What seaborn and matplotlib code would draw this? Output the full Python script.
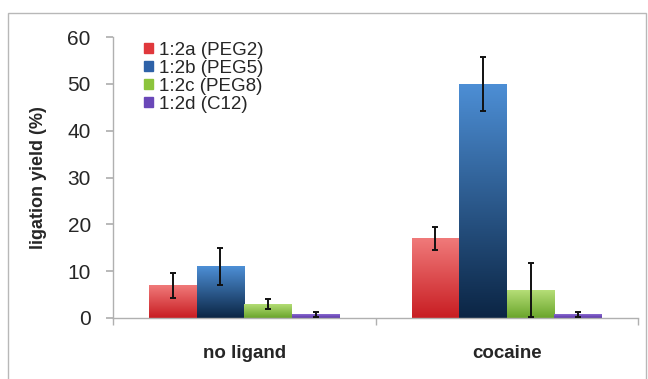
import numpy as np
import pandas as pd
import matplotlib
matplotlib.use("Agg")
import matplotlib.pyplot as plt
import matplotlib.patches as mpatches
from matplotlib.colors import LinearSegmentedColormap
import seaborn as sns

# Data
conditions = ["no ligand", "cocaine"]
linkers = ["1:2a (PEG2)", "1:2b (PEG5)", "1:2c (PEG8)", "1:2d (C12)"]
yield_no_ligand = [7.0, 11.0, 3.0, 0.8]
yield_cocaine = [17.0, 50.0, 6.0, 0.8]
err_no_ligand = [2.7, 3.9, 1.0, 0.5]
err_cocaine = [2.4, 5.8, 5.8, 0.5]

# gradient (top, bottom) per linker
grad_top = ["#f07a7a", "#4d8fd6", "#b8e07a", "#8a6ad0"]
grad_bottom = ["#c81d22", "#0b2544", "#6aa52b", "#5a36a8"]
legend_colors = ["#e0383c", "#2e62a8", "#8cc43c", "#6a48b8"]

rows = []
for c, vals, errs in [(conditions[0], yield_no_ligand, err_no_ligand),
                      (conditions[1], yield_cocaine, err_cocaine)]:
    for l, v, e in zip(linkers, vals, errs):
        rows.append({"condition": c, "linker": l, "yield": v, "err": e})
df = pd.DataFrame(rows)

sns.set_theme(style="white")
plt.rcParams["font.family"] = ["Liberation Sans", "DejaVu Sans"]

fig = plt.figure(figsize=(6.48, 3.79), dpi=100)
ax = fig.add_axes([0.1744, 0.161, 0.8102, 0.741])

sns.barplot(data=df, x="condition", y="yield", hue="linker", order=conditions,
            hue_order=linkers, palette=legend_colors, width=0.725, errorbar=None,
            saturation=1, legend=False, ax=ax)

# paint gradients into the bars and add error bars
for i, l in enumerate(linkers):
    cont = ax.containers[i]
    cmap = LinearSegmentedColormap.from_list(l, [grad_bottom[i], grad_top[i]])
    sub = df[df["linker"] == l].set_index("condition").loc[conditions]
    for bar, err in zip(cont, sub["err"]):
        x0, w, h = bar.get_x(), bar.get_width(), bar.get_height()
        bar.set_facecolor("none")
        bar.set_edgecolor("none")
        grad = np.linspace(0, 1, 256).reshape(-1, 1)
        im = ax.imshow(grad, cmap=cmap, origin="lower", aspect="auto",
                       extent=[x0, x0 + w, 0, h], zorder=2)
        im.set_clip_path(bar)
        ax.errorbar(x0 + w / 2, h, yerr=err, fmt="none", ecolor="#111111",
                    elinewidth=1.4, capsize=2.5, capthick=1.4, zorder=4)

ax.set_xlim(-0.5, 1.5)
ax.set_ylim(0, 60)
ax.set_yticks(range(0, 61, 10))
ax.set_xlabel("")
ax.set_ylabel("ligation yield (%)", fontsize=13, fontweight="bold", labelpad=15)
ax.tick_params(axis="y", labelsize=15, left=True, length=5, color="#b0b0b0", pad=11)
ax.tick_params(axis="x", labelsize=13.5, bottom=False, pad=13.5)
for t in ax.get_xticklabels():
    t.set_fontweight("bold")

for s in ["top", "right"]:
    ax.spines[s].set_visible(False)
for s in ["left", "bottom"]:
    ax.spines[s].set_color("#b0b0b0")
    ax.spines[s].set_linewidth(1.0)

# category boundary ticks below the x axis
ax.set_xticks([-0.5, 0.5, 1.5], minor=True)
ax.tick_params(axis="x", which="minor", bottom=True, length=5, color="#b0b0b0", width=1)

handles = [mpatches.Patch(color=c, label=l) for c, l in zip(legend_colors, linkers)]
ax.legend(handles=handles, loc="upper left", bbox_to_anchor=(0.045, 1.01), frameon=False,
          fontsize=13.5, handlelength=0.45, handleheight=0.45, handletextpad=0.35,
          labelspacing=0.05, borderaxespad=0)

fig.patches.append(mpatches.Rectangle((8 / 648, -0.01), 638 / 648, 1 - 13 / 379 + 0.01,
                                      transform=fig.transFigure, fill=False,
                                      edgecolor="#b8b8b8", linewidth=1.0))

fig.savefig("out.png", dpi=100)
